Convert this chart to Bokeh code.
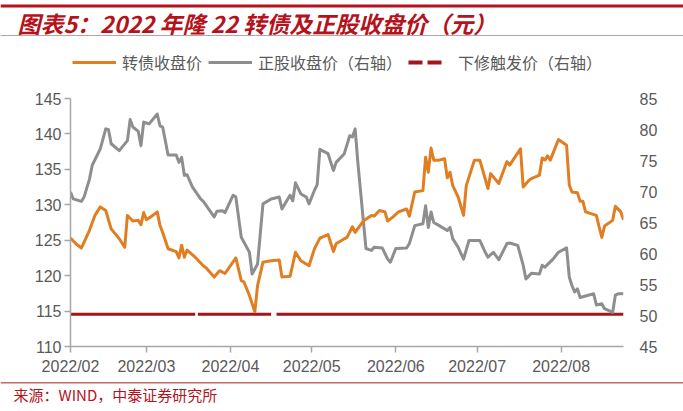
import numpy as np
import pandas as pd
from bokeh.plotting import figure
from bokeh.layouts import column
from bokeh.models import (Range1d, LinearAxis, DatetimeTickFormatter, FixedTicker,
                          Label, BoxAnnotation, Legend, LegendItem)
from bokeh.embed import file_html
from bokeh.resources import INLINE

# ---------------- data ----------------
bond_dates = [
    "2022-02-01", "2022-02-03", "2022-02-05", "2022-02-08", "2022-02-10", "2022-02-12",
    "2022-02-14", "2022-02-16", "2022-02-19", "2022-02-21", "2022-02-22", "2022-02-24",
    "2022-02-26", "2022-02-27", "2022-02-28", "2022-03-01", "2022-03-03", "2022-03-05",
    "2022-03-06", "2022-03-07", "2022-03-09", "2022-03-12", "2022-03-13", "2022-03-14",
    "2022-03-15", "2022-03-16", "2022-03-19", "2022-03-22", "2022-03-23", "2022-03-26",
    "2022-03-28", "2022-03-30", "2022-04-03", "2022-04-05", "2022-04-06", "2022-04-08",
    "2022-04-10", "2022-04-11", "2022-04-13", "2022-04-16", "2022-04-19", "2022-04-20",
    "2022-04-23", "2022-04-25", "2022-04-27", "2022-04-30", "2022-05-02", "2022-05-04",
    "2022-05-07", "2022-05-09", "2022-05-10", "2022-05-13", "2022-05-14", "2022-05-16",
    "2022-05-17", "2022-05-20", "2022-05-23", "2022-05-24", "2022-05-26", "2022-05-28",
    "2022-05-29", "2022-05-31", "2022-06-02", "2022-06-05", "2022-06-06", "2022-06-08",
    "2022-06-11", "2022-06-12", "2022-06-13", "2022-06-14", "2022-06-15", "2022-06-17",
    "2022-06-19", "2022-06-20", "2022-06-21", "2022-06-22", "2022-06-24", "2022-06-26",
    "2022-06-27", "2022-06-30", "2022-07-02", "2022-07-05", "2022-07-06", "2022-07-09",
    "2022-07-12", "2022-07-13", "2022-07-17", "2022-07-18", "2022-07-20", "2022-07-21",
    "2022-07-24", "2022-07-25", "2022-07-26", "2022-07-27", "2022-07-28", "2022-07-31",
    "2022-08-03", "2022-08-04", "2022-08-05", "2022-08-07", "2022-08-08", "2022-08-09",
    "2022-08-10", "2022-08-14", "2022-08-15", "2022-08-16", "2022-08-17", "2022-08-20",
    "2022-08-21", "2022-08-23", "2022-08-24",
]
bond_close = [
    125.3, 124.5, 123.9, 126.4, 128.5, 129.7,
    129.2, 126.6, 125.2, 124.0, 128.5, 127.7,
    127.8, 127.2, 128.9, 127.9, 128.4, 129.0,
    127.1, 126.1, 123.8, 123.4, 122.5, 124.3,
    122.6, 123.6, 122.6, 121.4, 121.1, 119.8,
    120.7, 120.3, 122.5, 119.3, 119.1, 117.2,
    114.9, 118.6, 121.9, 122.1, 122.2, 119.8,
    119.9, 123.3, 122.1, 121.4, 123.8, 125.3,
    125.8, 123.4, 124.5, 125.2, 125.4, 126.9,
    126.1, 127.7, 128.5, 128.4, 129.2, 129.0,
    127.7, 128.3, 129.0, 129.4, 128.4, 131.8,
    132.0, 136.7, 134.6, 138.0, 136.3, 136.3,
    136.5, 133.8, 134.6, 132.7, 131.1, 128.5,
    132.7, 136.3, 136.3, 132.3, 134.4, 133.0,
    136.1, 135.6, 137.9, 132.5, 133.4, 133.7,
    134.2, 136.6, 136.3, 136.9, 136.3, 139.2,
    138.4, 132.8, 131.8, 131.7, 130.5, 130.5,
    129.0, 128.5, 126.9, 125.4, 127.0, 127.8,
    129.8, 129.0, 127.9,
]

stock_dates = [
    "2022-02-01", "2022-02-02", "2022-02-05", "2022-02-06", "2022-02-08", "2022-02-09",
    "2022-02-12", "2022-02-14", "2022-02-15", "2022-02-16", "2022-02-19", "2022-02-22",
    "2022-02-23", "2022-02-24", "2022-02-26", "2022-02-27", "2022-02-28", "2022-03-02",
    "2022-03-05", "2022-03-06", "2022-03-07", "2022-03-09", "2022-03-12", "2022-03-13",
    "2022-03-14", "2022-03-15", "2022-03-16", "2022-03-18", "2022-03-21", "2022-03-22",
    "2022-03-26", "2022-03-27", "2022-03-29", "2022-03-30", "2022-04-02", "2022-04-03",
    "2022-04-05", "2022-04-06", "2022-04-08", "2022-04-09", "2022-04-11", "2022-04-13",
    "2022-04-16", "2022-04-19", "2022-04-20", "2022-04-23", "2022-04-24", "2022-04-25",
    "2022-04-27", "2022-04-29", "2022-04-30", "2022-05-02", "2022-05-03", "2022-05-04",
    "2022-05-07", "2022-05-09", "2022-05-10", "2022-05-13", "2022-05-15", "2022-05-16",
    "2022-05-17", "2022-05-18", "2022-05-21", "2022-05-23", "2022-05-24", "2022-05-27",
    "2022-05-29", "2022-05-30", "2022-06-01", "2022-06-05", "2022-06-06", "2022-06-08",
    "2022-06-11", "2022-06-12", "2022-06-13", "2022-06-14", "2022-06-15", "2022-06-17",
    "2022-06-20", "2022-06-21", "2022-06-22", "2022-06-24", "2022-06-26", "2022-06-28",
    "2022-07-02", "2022-07-04", "2022-07-05", "2022-07-07", "2022-07-09", "2022-07-12",
    "2022-07-13", "2022-07-16", "2022-07-18", "2022-07-19", "2022-07-21", "2022-07-24",
    "2022-07-25", "2022-07-26", "2022-07-29", "2022-07-31", "2022-08-03", "2022-08-04",
    "2022-08-05", "2022-08-06", "2022-08-07", "2022-08-08", "2022-08-13", "2022-08-14",
    "2022-08-16", "2022-08-17", "2022-08-20", "2022-08-21", "2022-08-22", "2022-08-24",
]
stock_close = [
    69.9, 68.8, 68.4, 69.1, 72.0, 74.2,
    76.9, 80.1, 80.0, 77.7, 76.6, 78.2,
    81.6, 80.4, 79.7, 77.4, 81.2, 80.9,
    82.5, 80.6, 80.4, 75.9, 75.9, 74.7,
    75.5, 72.6, 72.7, 70.7, 68.8, 68.4,
    65.9, 66.8, 66.9, 66.6, 69.4, 69.1,
    62.6, 61.8, 60.2, 56.7, 58.3, 68.0,
    68.8, 69.1, 67.2, 69.4, 68.5, 71.4,
    69.6, 69.1, 68.0, 70.2, 71.1, 76.8,
    76.1, 73.4, 74.7, 76.1, 79.0, 78.8,
    80.1, 74.7, 60.8, 60.5, 61.0, 60.9,
    59.1, 58.6, 60.8, 60.9, 61.6, 64.5,
    64.8, 67.7, 64.2, 66.7, 65.0, 64.5,
    63.7, 64.2, 62.4, 61.0, 59.1, 62.1,
    62.1, 60.2, 59.4, 60.2, 59.0, 61.6,
    61.7, 61.3, 58.1, 55.9, 56.8, 56.7,
    58.1, 57.8, 59.1, 60.2, 60.9, 56.2,
    54.8, 53.8, 54.3, 52.9, 53.5, 51.7,
    51.9, 51.1, 50.5, 53.3, 53.5, 53.5,
]

trigger_dates = ["2022-02-01", "2022-03-19", "2022-03-19", "2022-03-20", "2022-04-16",
                 "2022-04-16", "2022-04-18", "2022-08-24"]
trigger_price = [50.2, 50.2, np.nan, 50.2, 50.2, np.nan, 50.2, 50.2]

tick_months = ["2022-02-01", "2022-03-01", "2022-04-01", "2022-05-01",
               "2022-06-01", "2022-07-01", "2022-08-01"]
left_ticks = [110, 115, 120, 125, 130, 135, 140, 145]
right_ticks = [45, 50, 55, 60, 65, 70, 75, 80, 85]

series_names = ["转债收盘价", "正股收盘价（右轴）", "下修触发价（右轴）"]
title_text = "图表5：2022 年隆 22 转债及正股收盘价（元）"
source_text = "来源：WIND，中泰证券研究所"

# ---------------- styling ----------------
ORANGE = "#E17E22"
GRAY = "#8E8E8E"
DARKRED = "#A3161B"
TITLE_RED = "#B5121B"
AX_COLOR = "#A6A6A6"
LBL_COLOR = "#595959"
W = 683
HEAD_H, MAIN_H, FOOT_H = 88, 290, 33


def blank_fig(h):
    f = figure(width=W, height=h, output_backend="svg", toolbar_location=None,
               x_range=Range1d(0, W), y_range=Range1d(h, 0),
               x_axis_location=None, y_axis_location=None,
               min_border=0, min_border_left=0, min_border_right=0,
               min_border_top=0, min_border_bottom=0, frame_align=False)
    f.outline_line_color = None
    f.xgrid.visible = False
    f.ygrid.visible = False
    f.background_fill_color = "white"
    f.border_fill_color = "white"
    return f


# ---------------- header: title, rules, legend ----------------
head = blank_fig(HEAD_H)
head.add_layout(BoxAnnotation(left=0, right=W, top=4, bottom=7,
                              fill_color=TITLE_RED, fill_alpha=1, line_color=None))
head.add_layout(BoxAnnotation(left=0, right=W, top=34.5, bottom=35.5,
                              fill_color="#B8A3A3", fill_alpha=1, line_color=None))
head.add_layout(Label(x=17, y=22, text=title_text,
                      text_font="Noto Sans CJK SC", text_font_style="bold italic",
                      text_font_size="23px", text_color=TITLE_RED, text_baseline="middle"))
l_bond = head.line([0], [np.nan], line_color=ORANGE, line_width=3)
l_stock = head.line([0], [np.nan], line_color=GRAY, line_width=3)
l_trig = head.line([0], [np.nan], line_color=DARKRED, line_width=4, line_dash="14 5 14 60")
legend = Legend(items=[LegendItem(label=series_names[0], renderers=[l_bond]),
                       LegendItem(label=series_names[1], renderers=[l_stock]),
                       LegendItem(label=series_names[2], renderers=[l_trig])],
                location=(72, HEAD_H - 74), orientation="horizontal",
                glyph_width=44, glyph_height=20, label_height=20, label_standoff=6,
                spacing=6, padding=0, margin=0,
                border_line_color=None, background_fill_alpha=0,
                label_text_font="Noto Sans CJK SC", label_text_font_size="16px",
                label_text_color=LBL_COLOR)
head.add_layout(legend, "center")

# ---------------- main chart ----------------
bx = pd.to_datetime(bond_dates)
sx = pd.to_datetime(stock_dates)
tx = pd.to_datetime(trigger_dates)

p = figure(width=W, height=MAIN_H, x_axis_type="datetime", output_backend="svg",
           toolbar_location=None, frame_align=False,
           x_range=Range1d(pd.Timestamp("2022-02-01"), pd.Timestamp("2022-08-24")),
           y_range=Range1d(110, 145),
           min_border_left=70, min_border_right=60, min_border_top=10, min_border_bottom=32)
p.extra_y_ranges = {"right": Range1d(45, 85)}
p.outline_line_color = None
p.xgrid.visible = False
p.ygrid.visible = False
p.background_fill_color = "white"
p.border_fill_color = "white"

ya = p.yaxis[0]
ya.ticker = FixedTicker(ticks=left_ticks)
ya.axis_line_color = AX_COLOR
ya.axis_line_width = 1.5
ya.major_tick_line_color = AX_COLOR
ya.major_tick_line_width = 1.5
ya.major_tick_out = 6
ya.major_tick_in = 0
ya.minor_tick_line_color = None
ya.major_label_standoff = 3
ya.major_label_text_font = "Liberation Sans"
ya.major_label_text_font_size = "16px"
ya.major_label_text_color = LBL_COLOR

xa = p.xaxis[0]
xa.ticker = FixedTicker(ticks=[pd.Timestamp(m).value / 1e6 for m in tick_months])
xa.formatter = DatetimeTickFormatter(days="%Y/%m", months="%Y/%m", years="%Y/%m",
                                     hours="%Y/%m", minutes="%Y/%m")
xa.axis_line_color = AX_COLOR
xa.axis_line_width = 1.5
xa.major_tick_line_color = AX_COLOR
xa.major_tick_line_width = 1.5
xa.major_tick_out = 6
xa.major_tick_in = 0
xa.minor_tick_line_color = None
xa.major_label_standoff = 5
xa.major_label_text_font = "Liberation Sans"
xa.major_label_text_font_size = "16px"
xa.major_label_text_color = LBL_COLOR

ra = LinearAxis(y_range_name="right", ticker=FixedTicker(ticks=right_ticks))
ra.axis_line_color = None
ra.major_tick_line_color = None
ra.minor_tick_line_color = None
ra.major_label_standoff = 10
ra.major_label_text_font = "Liberation Sans"
ra.major_label_text_font_size = "16px"
ra.major_label_text_color = LBL_COLOR
p.add_layout(ra, "right")

p.line(tx, trigger_price, line_color=DARKRED, line_width=3.2, y_range_name="right")
p.line(sx, stock_close, line_color=GRAY, line_width=3, line_join="round",
       y_range_name="right")
p.line(bx, bond_close, line_color=ORANGE, line_width=3, line_join="round")

# ---------------- footer: rule and source ----------------
foot = blank_fig(FOOT_H)
foot.add_layout(BoxAnnotation(left=0, right=W, top=3.5, bottom=5,
                              fill_color="#C46A6A", fill_alpha=1, line_color=None))
foot.add_layout(Label(x=13, y=16, text=source_text,
                      text_font="Noto Sans CJK SC", text_font_size="15px",
                      text_color=TITLE_RED, text_baseline="middle"))

layout = column(head, p, foot, spacing=0)
open("out.html", "w").write(file_html(layout, INLINE))
